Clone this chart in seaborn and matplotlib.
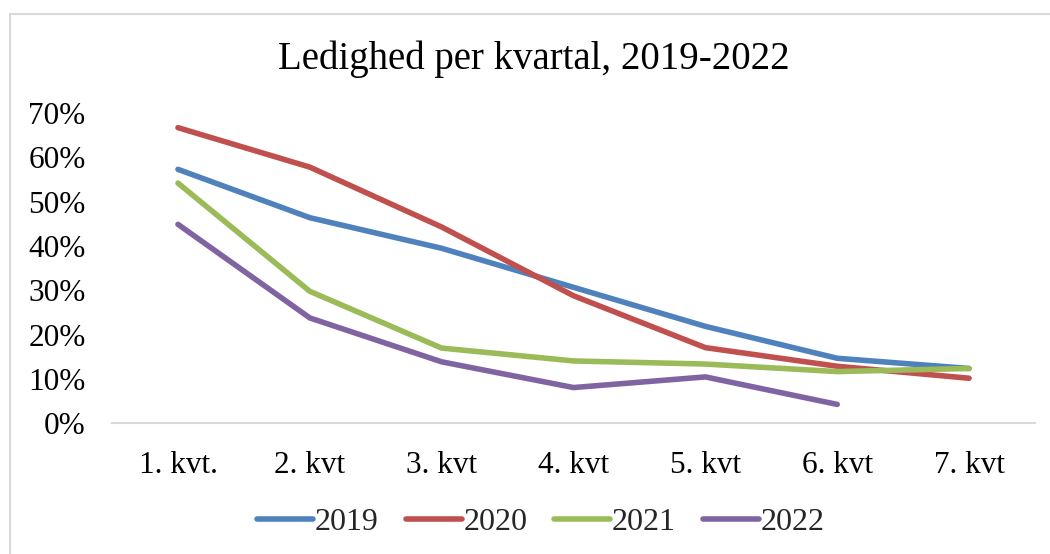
import numpy as np
import pandas as pd
import seaborn as sns
import matplotlib.pyplot as plt
from matplotlib.patches import Rectangle
from matplotlib.ticker import PercentFormatter

quarters = ["1. kvt.", "2. kvt", "3. kvt", "4. kvt", "5. kvt", "6. kvt", "7. kvt"]
years = ["2019", "2020", "2021", "2022"]
v2019 = [0.573, 0.464, 0.395, 0.307, 0.219, 0.147, 0.124]
v2020 = [0.667, 0.578, 0.443, 0.288, 0.171, 0.129, 0.102]
v2021 = [0.542, 0.298, 0.170, 0.141, 0.134, 0.117, 0.124]
v2022 = [0.449, 0.238, 0.139, 0.081, 0.105, 0.043, np.nan]
colors = ["#4F81BD", "#C0504D", "#9BBB59", "#8064A2"]

rows = []
for year, vals in zip(years, [v2019, v2020, v2021, v2022]):
    for q, v in zip(quarters, vals):
        if not np.isnan(v):
            rows.append({"kvartal": q, "ledighed": v, "aar": year})
df = pd.DataFrame(rows)

sns.set_theme(style="white")
plt.rcParams['font.family'] = ['Liberation Serif', 'DejaVu Serif']

fig = plt.figure(figsize=(10.5, 5.54), dpi=100)
ax = fig.add_axes([0.1067, 0.2356, 0.879, 0.5604])

sns.lineplot(data=df, x="kvartal", y="ledighed", hue="aar", hue_order=years,
             palette=colors, linewidth=4.0, sort=False, ax=ax,
             solid_capstyle="round")

ax.set_xlim(-0.5, 6.5)
ax.set_ylim(0, 0.7)
ax.set_yticks(np.arange(0, 0.71, 0.1))
ax.yaxis.set_major_formatter(PercentFormatter(1.0, decimals=0))
ax.set_xlabel("")
ax.set_ylabel("")
ax.tick_params(axis="both", labelsize=22.5, colors="black", length=0)
ax.tick_params(axis="x", pad=20)
ax.tick_params(axis="y", pad=19)
for side in ["top", "right", "left"]:
    ax.spines[side].set_visible(False)
ax.spines["bottom"].set_color("#d9d9d9")
ax.spines["bottom"].set_linewidth(1.5)
ax.grid(False)

fig.text(0.508, 0.893, "Ledighed per kvartal, 2019-2022", ha="center", va="center",
         fontsize=28, color="black")

handles, labels = ax.get_legend_handles_labels()
ax.legend(handles, labels, loc="center", bbox_to_anchor=(0.515, 0.057),
          bbox_transform=fig.transFigure, ncol=4, frameon=False, fontsize=23,
          handlelength=1.75, handletextpad=0.05, columnspacing=0.85)

fig.patches.append(Rectangle((10 / 1050, -0.1), 1.2, 1 - 14 / 554 + 0.1,
                             transform=fig.transFigure, fill=False,
                             edgecolor="#d9d9d9", linewidth=1.5))

fig.savefig("out.png", dpi=100)
